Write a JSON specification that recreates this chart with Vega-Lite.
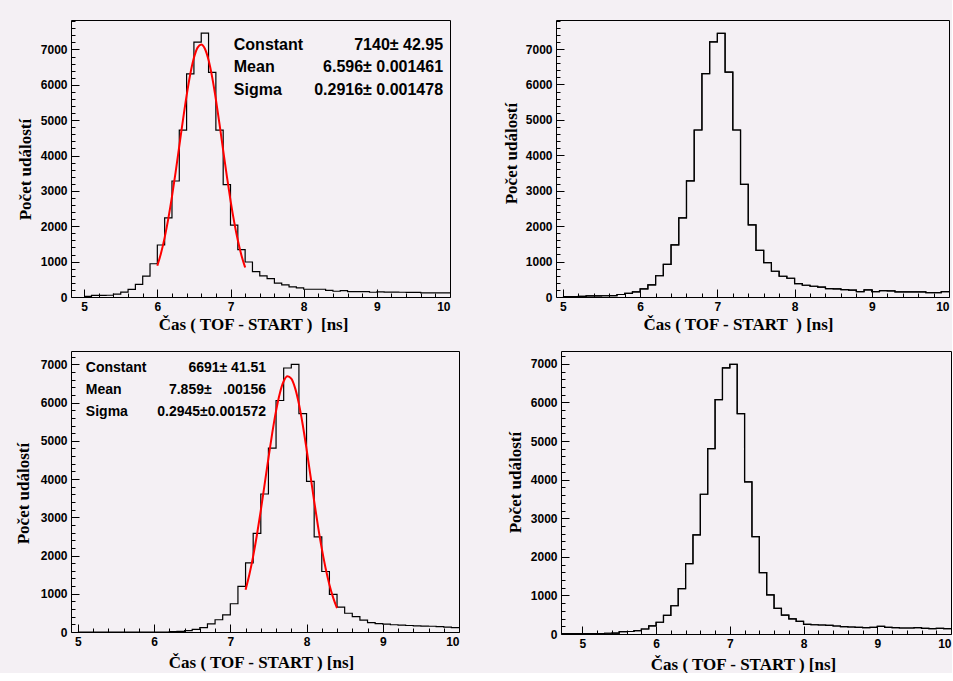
{
  "$schema": "https://vega.github.io/schema/vega-lite/v6.json",
  "background": "#f4f0f4",
  "padding": {"left": 13, "top": 19, "right": 0, "bottom": 0},
  "spacing": 17,
  "vconcat": [
    {
      "spacing": 50,
      "hconcat": [
        {
          "width": 379,
          "height": 277,
          "data": {"values": [
            {"t": 5.0, "n": 20}, {"t": 5.1, "n": 45}, {"t": 5.2, "n": 48}, {"t": 5.3, "n": 50}, {"t": 5.4, "n": 80},
            {"t": 5.5, "n": 140}, {"t": 5.6, "n": 215}, {"t": 5.7, "n": 355}, {"t": 5.8, "n": 590}, {"t": 5.9, "n": 940},
            {"t": 6.0, "n": 1470}, {"t": 6.1, "n": 2240}, {"t": 6.2, "n": 3280}, {"t": 6.3, "n": 4720}, {"t": 6.4, "n": 6310},
            {"t": 6.5, "n": 7210}, {"t": 6.6, "n": 7460}, {"t": 6.7, "n": 6350}, {"t": 6.8, "n": 4720}, {"t": 6.9, "n": 3180},
            {"t": 7.0, "n": 2030}, {"t": 7.1, "n": 1340}, {"t": 7.2, "n": 990}, {"t": 7.3, "n": 720}, {"t": 7.4, "n": 600},
            {"t": 7.5, "n": 520}, {"t": 7.6, "n": 390}, {"t": 7.7, "n": 342}, {"t": 7.8, "n": 285}, {"t": 7.9, "n": 257},
            {"t": 8.0, "n": 219}, {"t": 8.1, "n": 219}, {"t": 8.2, "n": 219}, {"t": 8.3, "n": 190}, {"t": 8.4, "n": 162},
            {"t": 8.5, "n": 181}, {"t": 8.6, "n": 152}, {"t": 8.7, "n": 152}, {"t": 8.8, "n": 152}, {"t": 8.9, "n": 135},
            {"t": 9.0, "n": 143}, {"t": 9.1, "n": 140}, {"t": 9.2, "n": 140}, {"t": 9.3, "n": 135}, {"t": 9.4, "n": 133},
            {"t": 9.5, "n": 133}, {"t": 9.6, "n": 115}, {"t": 9.7, "n": 115}, {"t": 9.8, "n": 115}, {"t": 9.9, "n": 115},
            {"t": 10.0, "n": 115}
          ]},
          "resolve": {"axis": {"x": "independent", "y": "independent"}},
          "layer": [
            {
              "mark": {"type": "line", "interpolate": "step-after", "color": "black", "strokeWidth": 1.2, "clip": true},
              "encoding": {
                "x": {"field": "t", "type": "quantitative",
                  "scale": {"domain": [4.82, 10], "nice": false, "zero": false},
                  "axis": {"orient": "bottom", "title": "Čas ( TOF - START )\u00a0 [ns]", "titleX": 182, "titlePadding": 4,
                    "values": [5, 6, 7, 8, 9, 10], "tickSize": -8, "labelPadding": 12}},
                "y": {"field": "n", "type": "quantitative",
                  "scale": {"domain": [0, 7833], "nice": false},
                  "axis": {"orient": "left", "title": "Počet událostí", "titleY": 149, "titlePadding": 6,
                    "values": [0, 1000, 2000, 3000, 4000, 5000, 6000, 7000], "tickSize": -8, "labelPadding": 12}}
              }
            },
            {
              "data": {"values": [
                {"t": 6.00, "n": 884}, {"t": 6.05, "n": 1237}, {"t": 6.10, "n": 1680}, {"t": 6.15, "n": 2217}, {"t": 6.20, "n": 2839},
                {"t": 6.25, "n": 3531}, {"t": 6.30, "n": 4266}, {"t": 6.35, "n": 5002}, {"t": 6.40, "n": 5696}, {"t": 6.45, "n": 6299},
                {"t": 6.50, "n": 6763}, {"t": 6.55, "n": 7052}, {"t": 6.60, "n": 7139}, {"t": 6.65, "n": 7019}, {"t": 6.70, "n": 6700},
                {"t": 6.75, "n": 6211}, {"t": 6.80, "n": 5590}, {"t": 6.85, "n": 4886}, {"t": 6.90, "n": 4147}, {"t": 6.95, "n": 3417},
                {"t": 7.00, "n": 2735}, {"t": 7.05, "n": 2125}, {"t": 7.10, "n": 1603}, {"t": 7.15, "n": 1175}, {"t": 7.20, "n": 836}
              ]},
              "mark": {"type": "line", "color": "#ff0000", "strokeWidth": 2, "interpolate": "monotone"},
              "encoding": {
                "x": {"field": "t", "type": "quantitative",
                  "axis": {"orient": "bottom", "title": null, "labels": false, "tickSize": -4,
                    "values": [5.2,5.4,5.6,5.8,6.2,6.4,6.6,6.8,7.2,7.4,7.6,7.8,8.2,8.4,8.6,8.8,9.2,9.4,9.6,9.8]}},
                "y": {"field": "n", "type": "quantitative",
                  "axis": {"orient": "left", "title": null, "labels": false, "tickSize": -4,
                    "values": [200,400,600,800,1200,1400,1600,1800,2200,2400,2600,2800,3200,3400,3600,3800,4200,4400,4600,4800,5200,5400,5600,5800,6200,6400,6600,6800,7200,7400,7600,7800]}}
              }
            },
            {
              "data": {"values": [{"fit": "gaus"}]},
              "mark": {"type": "text", "text": ["Constant", "Mean", "Sigma"], "align": "left", "baseline": "alphabetic",
                "font": "Liberation Sans", "fontSize": 16, "fontWeight": "bold", "lineHeight": 22.7, "color": "black"},
              "encoding": {"x": {"datum": 7.045, "type": "quantitative", "axis": null}, "y": {"datum": 6990, "type": "quantitative", "axis": null}}
            },
            {
              "data": {"values": [{"fit": "gaus"}]},
              "mark": {"type": "text", "text": ["7140± 42.95", "6.596± 0.001461", "0.2916± 0.001478"], "align": "right", "baseline": "alphabetic",
                "font": "Liberation Sans", "fontSize": 16, "fontWeight": "bold", "lineHeight": 22.7, "color": "black"},
              "encoding": {"x": {"datum": 9.905, "type": "quantitative", "axis": null}, "y": {"datum": 6990, "type": "quantitative", "axis": null}}
            }
          ]
        },
        {
          "width": 393,
          "height": 277,
          "data": {"values": [
            {"t": 5.0, "n": 10}, {"t": 5.1, "n": 12}, {"t": 5.2, "n": 15}, {"t": 5.3, "n": 30}, {"t": 5.4, "n": 32},
            {"t": 5.5, "n": 35}, {"t": 5.6, "n": 40}, {"t": 5.7, "n": 70}, {"t": 5.8, "n": 105}, {"t": 5.9, "n": 145},
            {"t": 6.0, "n": 230}, {"t": 6.1, "n": 345}, {"t": 6.2, "n": 600}, {"t": 6.3, "n": 920}, {"t": 6.4, "n": 1470},
            {"t": 6.5, "n": 2235}, {"t": 6.6, "n": 3280}, {"t": 6.7, "n": 4715}, {"t": 6.8, "n": 6305}, {"t": 6.9, "n": 7205},
            {"t": 7.0, "n": 7445}, {"t": 7.1, "n": 6350}, {"t": 7.2, "n": 4715}, {"t": 7.3, "n": 3180}, {"t": 7.4, "n": 2035},
            {"t": 7.5, "n": 1318}, {"t": 7.6, "n": 971}, {"t": 7.7, "n": 727}, {"t": 7.8, "n": 586}, {"t": 7.9, "n": 530},
            {"t": 8.0, "n": 379}, {"t": 8.1, "n": 332}, {"t": 8.2, "n": 304}, {"t": 8.3, "n": 276}, {"t": 8.4, "n": 239},
            {"t": 8.5, "n": 229}, {"t": 8.6, "n": 210}, {"t": 8.7, "n": 192}, {"t": 8.8, "n": 154}, {"t": 8.9, "n": 201},
            {"t": 9.0, "n": 154}, {"t": 9.1, "n": 182}, {"t": 9.2, "n": 173}, {"t": 9.3, "n": 145}, {"t": 9.4, "n": 145},
            {"t": 9.5, "n": 145}, {"t": 9.6, "n": 145}, {"t": 9.7, "n": 126}, {"t": 9.8, "n": 126}, {"t": 9.9, "n": 154},
            {"t": 10.0, "n": 154}
          ]},
          "resolve": {"axis": {"x": "independent", "y": "independent"}},
          "layer": [
            {
              "mark": {"type": "line", "interpolate": "step-after", "color": "black", "strokeWidth": 1.2, "clip": true},
              "encoding": {
                "x": {"field": "t", "type": "quantitative",
                  "scale": {"domain": [4.91, 10], "nice": false, "zero": false},
                  "axis": {"orient": "bottom", "title": "Čas ( TOF - START\u00a0 ) [ns]", "titleX": 182, "titlePadding": 4,
                    "values": [5, 6, 7, 8, 9, 10], "tickSize": -8, "labelPadding": 12, "labelFlush": true}},
                "y": {"field": "n", "type": "quantitative",
                  "scale": {"domain": [0, 7820], "nice": false},
                  "axis": {"orient": "left", "title": "Počet událostí", "titleY": 133, "titlePadding": 5,
                    "values": [0, 1000, 2000, 3000, 4000, 5000, 6000, 7000], "tickSize": -8, "labelPadding": 12}}
              }
            },
            {
              "mark": {"type": "line", "interpolate": "step-after", "color": "black", "strokeWidth": 1.2, "clip": true},
              "encoding": {
                "x": {"field": "t", "type": "quantitative",
                  "axis": {"orient": "bottom", "title": null, "labels": false, "tickSize": -4,
                    "values": [5.2,5.4,5.6,5.8,6.2,6.4,6.6,6.8,7.2,7.4,7.6,7.8,8.2,8.4,8.6,8.8,9.2,9.4,9.6,9.8]}},
                "y": {"field": "n", "type": "quantitative",
                  "axis": {"orient": "left", "title": null, "labels": false, "tickSize": -4,
                    "values": [200,400,600,800,1200,1400,1600,1800,2200,2400,2600,2800,3200,3400,3600,3800,4200,4400,4600,4800,5200,5400,5600,5800,6200,6400,6600,6800,7200,7400,7600,7800]}}
              }
            }
          ]
        }
      ]
    },
    {
      "spacing": 45,
      "hconcat": [
        {
          "width": 388,
          "height": 281,
          "data": {"values": [
            {"t": 5.0, "n": 0}, {"t": 5.1, "n": 0}, {"t": 5.2, "n": 0}, {"t": 5.3, "n": 0}, {"t": 5.4, "n": 0},
            {"t": 5.5, "n": 0}, {"t": 5.6, "n": 0}, {"t": 5.7, "n": 0}, {"t": 5.8, "n": 0}, {"t": 5.9, "n": 0},
            {"t": 6.0, "n": 0}, {"t": 6.1, "n": 0}, {"t": 6.2, "n": 8}, {"t": 6.3, "n": 15}, {"t": 6.4, "n": 35},
            {"t": 6.5, "n": 70}, {"t": 6.6, "n": 115}, {"t": 6.7, "n": 215}, {"t": 6.8, "n": 320}, {"t": 6.9, "n": 450},
            {"t": 7.0, "n": 739}, {"t": 7.1, "n": 1191}, {"t": 7.2, "n": 1809}, {"t": 7.3, "n": 2578}, {"t": 7.4, "n": 3609},
            {"t": 7.5, "n": 4809}, {"t": 7.6, "n": 6055}, {"t": 7.7, "n": 6905}, {"t": 7.8, "n": 7000}, {"t": 7.9, "n": 5712},
            {"t": 8.0, "n": 3939}, {"t": 8.1, "n": 2490}, {"t": 8.2, "n": 1583}, {"t": 8.3, "n": 983}, {"t": 8.4, "n": 652},
            {"t": 8.5, "n": 490}, {"t": 8.6, "n": 400}, {"t": 8.7, "n": 310}, {"t": 8.8, "n": 243}, {"t": 8.9, "n": 217},
            {"t": 9.0, "n": 205}, {"t": 9.1, "n": 190}, {"t": 9.2, "n": 180}, {"t": 9.3, "n": 170}, {"t": 9.4, "n": 160},
            {"t": 9.5, "n": 155}, {"t": 9.6, "n": 150}, {"t": 9.7, "n": 140}, {"t": 9.8, "n": 125}, {"t": 9.9, "n": 113},
            {"t": 10.0, "n": 113}
          ]},
          "resolve": {"axis": {"x": "independent", "y": "independent"}},
          "layer": [
            {
              "mark": {"type": "line", "interpolate": "step-after", "color": "black", "strokeWidth": 1.2, "clip": true},
              "encoding": {
                "x": {"field": "t", "type": "quantitative",
                  "scale": {"domain": [4.91, 10], "nice": false, "zero": false},
                  "axis": {"orient": "bottom", "title": "Čas ( TOF - START ) [ns]", "titleX": 190, "titlePadding": 7,
                    "values": [5, 6, 7, 8, 9, 10], "tickSize": -8, "labelPadding": 12}},
                "y": {"field": "n", "type": "quantitative",
                  "scale": {"domain": [0, 7350], "nice": false},
                  "axis": {"orient": "left", "title": "Počet událostí", "titleY": 142, "titlePadding": 8,
                    "values": [0, 1000, 2000, 3000, 4000, 5000, 6000, 7000], "tickSize": -8, "labelPadding": 12}}
              }
            },
            {
              "data": {"values": [
                {"t": 7.20, "n": 1105}, {"t": 7.25, "n": 1502}, {"t": 7.30, "n": 1986}, {"t": 7.35, "n": 2551}, {"t": 7.40, "n": 3183},
                {"t": 7.45, "n": 3859}, {"t": 7.50, "n": 4545}, {"t": 7.55, "n": 5202}, {"t": 7.60, "n": 5784}, {"t": 7.65, "n": 6248},
                {"t": 7.70, "n": 6558}, {"t": 7.75, "n": 6688}, {"t": 7.80, "n": 6627}, {"t": 7.85, "n": 6379}, {"t": 7.90, "n": 5966},
                {"t": 7.95, "n": 5422}, {"t": 8.00, "n": 4787}, {"t": 8.05, "n": 4107}, {"t": 8.10, "n": 3423}, {"t": 8.15, "n": 2771},
                {"t": 8.20, "n": 2181}, {"t": 8.25, "n": 1667}, {"t": 8.30, "n": 1238}, {"t": 8.35, "n": 893}, {"t": 8.40, "n": 626}
              ]},
              "mark": {"type": "line", "color": "#ff0000", "strokeWidth": 2, "interpolate": "monotone"},
              "encoding": {
                "x": {"field": "t", "type": "quantitative",
                  "axis": {"orient": "bottom", "title": null, "labels": false, "tickSize": -4,
                    "values": [5.2,5.4,5.6,5.8,6.2,6.4,6.6,6.8,7.2,7.4,7.6,7.8,8.2,8.4,8.6,8.8,9.2,9.4,9.6,9.8]}},
                "y": {"field": "n", "type": "quantitative",
                  "axis": {"orient": "left", "title": null, "labels": false, "tickSize": -4,
                    "values": [200,400,600,800,1200,1400,1600,1800,2200,2400,2600,2800,3200,3400,3600,3800,4200,4400,4600,4800,5200,5400,5600,5800,6200,6400,6600,6800,7200]}}
              }
            },
            {
              "data": {"values": [{"fit": "gaus"}]},
              "mark": {"type": "text", "text": ["Constant", "Mean", "Sigma"], "align": "left", "baseline": "alphabetic",
                "font": "Liberation Sans", "fontSize": 14, "fontWeight": "bold", "lineHeight": 22, "color": "black"},
              "encoding": {"x": {"datum": 5.105, "type": "quantitative", "axis": null}, "y": {"datum": 6809, "type": "quantitative", "axis": null}}
            },
            {
              "data": {"values": [{"fit": "gaus"}]},
              "mark": {"type": "text", "text": ["6691± 41.51", "7.859±\u00a0\u00a0\u00a0.00156", "0.2945±0.001572"], "align": "right", "baseline": "alphabetic",
                "font": "Liberation Sans", "fontSize": 14, "fontWeight": "bold", "lineHeight": 22, "color": "black"},
              "encoding": {"x": {"datum": 7.47, "type": "quantitative", "axis": null}, "y": {"datum": 6809, "type": "quantitative", "axis": null}}
            }
          ]
        },
        {
          "width": 390,
          "height": 283,
          "data": {"values": [
            {"t": 4.7, "n": 8}, {"t": 4.8, "n": 8}, {"t": 4.9, "n": 8}, {"t": 5.0, "n": 8}, {"t": 5.1, "n": 8},
            {"t": 5.2, "n": 8}, {"t": 5.3, "n": 20}, {"t": 5.4, "n": 25}, {"t": 5.5, "n": 60}, {"t": 5.6, "n": 65},
            {"t": 5.7, "n": 85}, {"t": 5.8, "n": 130}, {"t": 5.9, "n": 210}, {"t": 6.0, "n": 305}, {"t": 6.1, "n": 485},
            {"t": 6.2, "n": 732}, {"t": 6.3, "n": 1178}, {"t": 6.4, "n": 1826}, {"t": 6.5, "n": 2567}, {"t": 6.6, "n": 3622},
            {"t": 6.7, "n": 4806}, {"t": 6.8, "n": 6072}, {"t": 6.9, "n": 6899}, {"t": 7.0, "n": 6985}, {"t": 7.1, "n": 5710},
            {"t": 7.2, "n": 3940}, {"t": 7.3, "n": 2524}, {"t": 7.4, "n": 1593}, {"t": 7.5, "n": 1016}, {"t": 7.6, "n": 665},
            {"t": 7.7, "n": 490}, {"t": 7.8, "n": 392}, {"t": 7.9, "n": 327}, {"t": 8.0, "n": 250}, {"t": 8.1, "n": 240},
            {"t": 8.2, "n": 233}, {"t": 8.3, "n": 224}, {"t": 8.4, "n": 207}, {"t": 8.5, "n": 189}, {"t": 8.6, "n": 181},
            {"t": 8.7, "n": 172}, {"t": 8.8, "n": 164}, {"t": 8.9, "n": 172}, {"t": 9.0, "n": 200}, {"t": 9.1, "n": 172},
            {"t": 9.2, "n": 164}, {"t": 9.3, "n": 155}, {"t": 9.4, "n": 155}, {"t": 9.5, "n": 164}, {"t": 9.6, "n": 146},
            {"t": 9.7, "n": 138}, {"t": 9.8, "n": 146}, {"t": 9.9, "n": 138}, {"t": 10.0, "n": 138}
          ]},
          "resolve": {"axis": {"x": "independent", "y": "independent"}},
          "layer": [
            {
              "mark": {"type": "line", "interpolate": "step-after", "color": "black", "strokeWidth": 1.2, "clip": true},
              "encoding": {
                "x": {"field": "t", "type": "quantitative",
                  "scale": {"domain": [4.71, 10], "nice": false, "zero": false},
                  "axis": {"orient": "bottom", "title": "Čas ( TOF - START ) [ns]", "titleX": 182, "titlePadding": 7,
                    "values": [5, 6, 7, 8, 9, 10], "tickSize": -8, "labelPadding": 12, "labelFlush": true}},
                "y": {"field": "n", "type": "quantitative",
                  "scale": {"domain": [0, 7334], "nice": false},
                  "axis": {"orient": "left", "title": "Počet událostí", "titleY": 131, "titlePadding": 6,
                    "values": [0, 1000, 2000, 3000, 4000, 5000, 6000, 7000], "tickSize": -8, "labelPadding": 12}}
              }
            },
            {
              "mark": {"type": "line", "interpolate": "step-after", "color": "black", "strokeWidth": 1.2, "clip": true},
              "encoding": {
                "x": {"field": "t", "type": "quantitative",
                  "axis": {"orient": "bottom", "title": null, "labels": false, "tickSize": -4,
                    "values": [5.2,5.4,5.6,5.8,6.2,6.4,6.6,6.8,7.2,7.4,7.6,7.8,8.2,8.4,8.6,8.8,9.2,9.4,9.6,9.8]}},
                "y": {"field": "n", "type": "quantitative",
                  "axis": {"orient": "left", "title": null, "labels": false, "tickSize": -4,
                    "values": [200,400,600,800,1200,1400,1600,1800,2200,2400,2600,2800,3200,3400,3600,3800,4200,4400,4600,4800,5200,5400,5600,5800,6200,6400,6600,6800,7200]}}
              }
            }
          ]
        }
      ]
    }
  ],
  "config": {
    "view": {"stroke": "black", "strokeWidth": 1, "fill": "#f4f0f4"},
    "axis": {
      "domain": false, "grid": false, "zindex": 1,
      "tickColor": "black", "tickWidth": 1, "format": "d",
      "labelColor": "black", "labelFont": "Liberation Sans", "labelFontWeight": "bold", "labelFontSize": 12,
      "labelOverlap": false, "labelBound": false,
      "titleColor": "black", "titleFont": "Liberation Serif", "titleFontWeight": "bold", "titleFontSize": 17
    }
  }
}
